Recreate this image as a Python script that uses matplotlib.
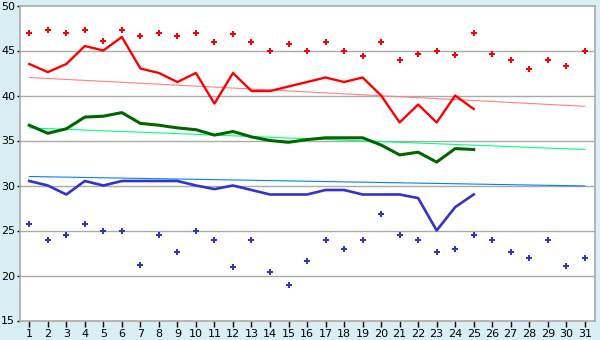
import matplotlib
matplotlib.use('Agg')
import matplotlib.pyplot as plt

days = list(range(1, 32))
line_days = list(range(1, 26))

# red: max scatter, daily line, trend
red_pts = [47.0, 47.3, 47.0, 47.3, 46.1, 47.3, 46.6, 47.0, 46.6, 47.0,
           46.0, 46.8, 46.0, 45.0, 45.7, 45.0, 46.0, 45.0, 44.4, 46.0,
           44.0, 44.6, 45.0, 44.5, 47.0, 44.6, 44.0, 43.0, 44.0, 43.3, 45.0]
red_line = [43.5, 42.6, 43.5, 45.5, 45.0, 46.5, 43.0, 42.5, 41.5, 42.5,
            39.1, 42.5, 40.5, 40.5, 41.0, 41.5, 42.0, 41.5, 42.0, 40.0,
            37.0, 39.0, 37.0, 40.0, 38.5]
red_trend = [42.0, 38.8]

# green: daily line, trend
green_line = [36.7, 35.8, 36.3, 37.6, 37.7, 38.1, 36.9, 36.7, 36.4, 36.2,
              35.6, 36.0, 35.4, 35.0, 34.8, 35.1, 35.3, 35.3, 35.3, 34.5,
              33.4, 33.7, 32.6, 34.1, 34.0]
green_trend = [36.4, 34.0]

# blue: daily line, min scatter, trend
blue_line = [30.5, 30.0, 29.0, 30.5, 30.0, 30.5, 30.5, 30.5, 30.5, 30.0,
             29.6, 30.0, 29.5, 29.0, 29.0, 29.0, 29.5, 29.5, 29.0, 29.0,
             29.0, 28.6, 25.0, 27.6, 29.0]
blue_pts = [25.7, 24.0, 24.5, 25.7, 25.0, 25.0, 21.2, 24.5, 22.6, 25.0,
            24.0, 20.9, 24.0, 20.4, 19.0, 21.6, 24.0, 23.0, 24.0, 26.8,
            24.5, 23.9, 22.6, 23.0, 24.5, 23.9, 22.6, 22.0, 24.0, 21.1, 22.0]
blue_trend = [31.0, 29.95]

trend_x = [days[0], days[-1]]

bg = '#daeef5'
fig = plt.figure(figsize=(6, 3.4), dpi=100, facecolor=bg)
ax = fig.add_axes([20 / 600, 1 - 320.5 / 340, 575 / 600, 315 / 340])
ax.set_facecolor('white')

for y in [20, 25, 30, 35, 40, 45]:
    ax.axhline(y, color='#aaaaaa', lw=1.0, zorder=1)

ax.plot(trend_x, red_trend, color='#ff8080', lw=0.8, zorder=2)
ax.plot(trend_x, green_trend, color='#00ff80', lw=0.8, zorder=2)
ax.plot(trend_x, blue_trend, color='#0080ff', lw=0.8, zorder=2)

ax.plot(line_days, red_line, color='#ff0000', lw=1.7, zorder=3)
ax.plot(line_days, green_line, color='#006600', lw=2.2, zorder=3)
ax.plot(line_days, blue_line, color='#3333cc', lw=1.9, zorder=3)

ax.plot(days, red_pts, ls='none', marker='P', ms=4.5, color='#ff0000',
        markeredgewidth=0, zorder=4)
ax.plot(days, blue_pts, ls='none', marker='P', ms=4.5, color='#3333cc',
        markeredgewidth=0, zorder=4)

ax.set_xlim(0.5, 31.55)
ax.set_ylim(15, 50)
ax.set_xticks(days)
ax.set_yticks(range(15, 51, 5))
ax.tick_params(axis='x', labelsize=8, length=4, width=1, color='black', pad=2)
ax.tick_params(axis='y', labelsize=8, length=2.5, width=1, color='black', pad=1)
for s in ax.spines.values():
    s.set_color('#aaaaaa')
    s.set_linewidth(1.2)

plt.savefig('out.png', dpi=100, facecolor=bg)
